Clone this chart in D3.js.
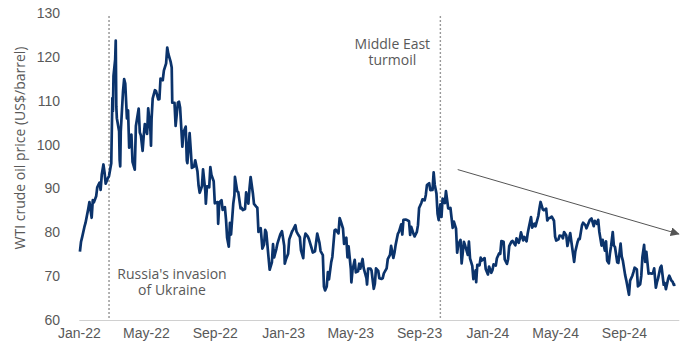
<!DOCTYPE html>
<html>
<head>
<meta charset="utf-8">
<script src="https://cdn.jsdelivr.net/npm/d3@7"></script>
<style>
  html, body { margin: 0; padding: 0; background: #fff; }
  svg { display: block; font-family: "Open Sans", sans-serif; }
</style>
</head>
<body>
<svg id="chart" width="690" height="346"></svg>
<script>
// WTI crude oil, closing price (US$/barrel)
const dates2022 = ["2022-01-03","2022-01-05","2022-01-07","2022-01-11","2022-01-13","2022-01-18","2022-01-20","2022-01-24","2022-01-26","2022-01-28",
  "2022-02-01","2022-02-03","2022-02-07","2022-02-09","2022-02-11","2022-02-14","2022-02-16","2022-02-18","2022-02-22","2022-02-24","2022-02-28",
  "2022-03-01","2022-03-02","2022-03-03","2022-03-04","2022-03-07","2022-03-08","2022-03-09","2022-03-10","2022-03-14","2022-03-15","2022-03-16","2022-03-17","2022-03-21","2022-03-23","2022-03-25","2022-03-28","2022-03-30",
  "2022-04-01","2022-04-05","2022-04-07","2022-04-11","2022-04-13","2022-04-18","2022-04-20","2022-04-22","2022-04-25","2022-04-27","2022-04-29",
  "2022-05-03","2022-05-05","2022-05-09","2022-05-10","2022-05-11","2022-05-13","2022-05-17","2022-05-19","2022-05-23","2022-05-25","2022-05-27","2022-05-31",
  "2022-06-02","2022-06-06","2022-06-08","2022-06-10","2022-06-14","2022-06-16","2022-06-17","2022-06-21","2022-06-23","2022-06-27","2022-06-29",
  "2022-07-01","2022-07-05","2022-07-07","2022-07-11","2022-07-13","2022-07-14","2022-07-18","2022-07-20","2022-07-22","2022-07-26","2022-07-28",
  "2022-08-01","2022-08-03","2022-08-05","2022-08-09","2022-08-11","2022-08-15","2022-08-16","2022-08-18","2022-08-22","2022-08-24","2022-08-26","2022-08-30",
  "2022-09-01","2022-09-06","2022-09-07","2022-09-09","2022-09-13","2022-09-15","2022-09-19","2022-09-21","2022-09-23","2022-09-26","2022-09-28","2022-09-30",
  "2022-10-04","2022-10-06","2022-10-07","2022-10-11","2022-10-13","2022-10-17","2022-10-19","2022-10-21","2022-10-25","2022-10-27","2022-10-31",
  "2022-11-02","2022-11-04","2022-11-08","2022-11-10","2022-11-14","2022-11-16","2022-11-18","2022-11-22","2022-11-25","2022-11-28","2022-11-30",
  "2022-12-02","2022-12-06","2022-12-08","2022-12-12","2022-12-14","2022-12-16","2022-12-20","2022-12-22","2022-12-27","2022-12-30"];
const prices2022 = [75.6,77.85,78.90,81.22,82.12,85.43,86.90,83.31,87.35,86.82,
  88.20,90.27,91.32,89.66,93.10,95.46,93.66,91.07,92.35,92.81,95.72,
  103.41,110.60,107.67,115.68,119.40,123.70,108.70,106.02,103.01,96.44,95.04,102.98,112.12,114.93,113.90,105.96,107.82,
  99.27,102.28,96.03,94.29,104.25,108.21,102.75,102.07,98.54,102.02,104.69,
  102.41,108.26,103.09,99.76,105.71,110.49,112.40,112.21,110.29,110.33,115.07,114.67,
  116.87,118.50,122.11,120.67,118.93,117.59,109.56,109.52,104.27,109.57,109.78,
  108.43,99.50,102.73,104.09,96.30,95.78,102.60,98.88,94.70,94.98,96.42,
  93.89,90.66,89.01,90.50,94.34,89.41,86.53,90.50,90.23,94.89,93.06,91.64,
  86.61,86.88,81.94,86.79,87.31,85.10,85.73,82.94,78.74,76.71,82.15,79.49,
  86.52,88.45,92.64,89.35,89.11,85.46,85.55,85.05,85.32,89.08,86.53,
  90.00,92.61,88.91,86.47,85.87,85.59,80.08,80.95,76.28,77.24,80.55,
  79.98,74.25,71.46,73.17,77.28,74.29,76.23,77.49,79.53,80.26];

const dates2023 = ["2023-01-03","2023-01-04","2023-01-06","2023-01-10","2023-01-12","2023-01-17","2023-01-19","2023-01-23","2023-01-25","2023-01-27","2023-01-31",
  "2023-02-02","2023-02-06","2023-02-08","2023-02-10","2023-02-14","2023-02-16","2023-02-21","2023-02-23","2023-02-27",
  "2023-03-01","2023-03-03","2023-03-07","2023-03-09","2023-03-13","2023-03-15","2023-03-17","2023-03-20","2023-03-22","2023-03-24","2023-03-28","2023-03-30",
  "2023-04-03","2023-04-05","2023-04-10","2023-04-12","2023-04-14","2023-04-18","2023-04-20","2023-04-24","2023-04-26","2023-04-28",
  "2023-05-02","2023-05-03","2023-05-05","2023-05-09","2023-05-11","2023-05-15","2023-05-17","2023-05-19","2023-05-23","2023-05-25","2023-05-30","2023-05-31",
  "2023-06-02","2023-06-06","2023-06-08","2023-06-12","2023-06-14","2023-06-16","2023-06-20","2023-06-22","2023-06-26","2023-06-28","2023-06-30",
  "2023-07-05","2023-07-07","2023-07-11","2023-07-13","2023-07-17","2023-07-19","2023-07-21","2023-07-25","2023-07-27","2023-07-31",
  "2023-08-02","2023-08-04","2023-08-08","2023-08-10","2023-08-14","2023-08-16","2023-08-18","2023-08-22","2023-08-24","2023-08-28","2023-08-30",
  "2023-09-01","2023-09-05","2023-09-07","2023-09-11","2023-09-13","2023-09-15","2023-09-19","2023-09-21","2023-09-25","2023-09-27","2023-09-29",
  "2023-10-02","2023-10-04","2023-10-06","2023-10-09","2023-10-11","2023-10-13","2023-10-17","2023-10-19","2023-10-23","2023-10-25","2023-10-27","2023-10-31",
  "2023-11-02","2023-11-06","2023-11-08","2023-11-10","2023-11-14","2023-11-16","2023-11-20","2023-11-22","2023-11-27","2023-11-29",
  "2023-12-01","2023-12-05","2023-12-07","2023-12-11","2023-12-12","2023-12-14","2023-12-18","2023-12-20","2023-12-22","2023-12-27","2023-12-29"];
const prices2023 = [76.93,72.84,73.77,75.12,78.39,80.18,80.61,81.62,80.15,79.68,78.87,
  75.88,74.11,78.47,79.72,79.06,78.49,76.36,75.39,75.68,
  77.69,79.68,77.58,75.72,74.80,67.61,66.74,67.64,70.90,69.26,73.20,74.37,
  80.42,80.61,79.74,83.26,82.52,80.86,77.37,78.76,74.30,76.78,
  71.66,68.60,71.34,73.71,70.87,71.11,72.83,71.69,73.91,71.83,69.46,68.09,
  71.74,71.74,71.29,67.12,68.27,71.78,71.19,69.51,69.37,69.56,70.64,
  71.79,73.86,74.83,76.89,74.15,75.35,77.07,79.63,80.09,81.80,
  79.49,82.82,82.92,82.82,82.51,79.38,81.25,79.64,79.05,80.10,81.63,
  85.55,86.69,87.51,87.29,88.52,90.77,91.20,89.63,89.68,93.68,90.79,
  88.82,84.22,82.79,86.38,83.49,87.69,86.66,89.37,85.49,85.39,85.54,81.02,
  82.46,80.82,75.33,77.17,78.26,72.90,77.83,77.10,74.86,77.86,
  74.07,72.32,69.34,71.32,68.61,72.58,72.47,74.22,73.56,74.11,71.65];

const dates2024 = ["2024-01-02","2024-01-04","2024-01-08","2024-01-10","2024-01-12","2024-01-16","2024-01-18","2024-01-22","2024-01-24","2024-01-26","2024-01-30",
  "2024-02-01","2024-02-05","2024-02-07","2024-02-09","2024-02-13","2024-02-15","2024-02-20","2024-02-22","2024-02-26","2024-02-28",
  "2024-03-01","2024-03-05","2024-03-07","2024-03-11","2024-03-13","2024-03-15","2024-03-19","2024-03-21","2024-03-25","2024-03-27",
  "2024-04-01","2024-04-03","2024-04-05","2024-04-09","2024-04-11","2024-04-15","2024-04-17","2024-04-19","2024-04-23","2024-04-25","2024-04-29",
  "2024-05-01","2024-05-03","2024-05-07","2024-05-09","2024-05-13","2024-05-15","2024-05-17","2024-05-21","2024-05-23","2024-05-28","2024-05-30",
  "2024-06-03","2024-06-04","2024-06-06","2024-06-10","2024-06-12","2024-06-14","2024-06-18","2024-06-20","2024-06-24","2024-06-26","2024-06-28",
  "2024-07-02","2024-07-05","2024-07-09","2024-07-11","2024-07-15","2024-07-17","2024-07-19","2024-07-23","2024-07-25","2024-07-29","2024-07-31",
  "2024-08-02","2024-08-05","2024-08-07","2024-08-09","2024-08-12","2024-08-14","2024-08-16","2024-08-20","2024-08-22","2024-08-26","2024-08-28","2024-08-30",
  "2024-09-03","2024-09-05","2024-09-10","2024-09-12","2024-09-16","2024-09-18","2024-09-20","2024-09-24","2024-09-26","2024-09-30",
  "2024-10-02","2024-10-04","2024-10-07","2024-10-09","2024-10-11","2024-10-15","2024-10-17","2024-10-21","2024-10-23","2024-10-25","2024-10-28","2024-10-30",
  "2024-11-01","2024-11-05","2024-11-07","2024-11-11","2024-11-13","2024-11-15","2024-11-19","2024-11-21","2024-11-25","2024-11-27","2024-11-29","2024-12-02"];
const prices2024 = [70.38,72.19,70.77,71.37,72.68,72.40,74.08,75.19,75.09,78.01,77.82,
  73.82,72.78,73.86,76.84,77.87,78.03,77.04,78.61,77.58,78.54,
  79.97,78.15,78.93,77.93,79.72,81.04,83.47,81.07,81.95,81.35,
  83.71,85.43,86.91,85.23,85.02,85.41,82.69,83.14,83.36,83.57,82.63,
  79.00,78.11,78.38,79.26,79.12,78.63,80.06,79.26,76.87,79.83,77.91,
  74.22,73.25,75.55,77.74,78.50,78.45,81.57,82.17,81.63,80.90,81.54,
  82.81,83.16,81.41,82.62,81.91,82.85,80.13,76.96,78.28,75.81,77.91,
  73.52,72.94,75.23,76.84,80.06,76.98,76.65,73.17,73.01,77.42,74.52,73.55,
  70.34,69.15,65.75,68.97,70.09,70.91,71.92,71.56,67.67,68.17,
  70.10,74.38,77.14,73.24,75.56,70.58,70.67,70.56,70.77,71.78,67.38,68.61,
  69.49,71.99,72.36,68.04,68.43,67.02,69.39,70.10,68.94,68.72,68.00,68.10];

const yTicks = [60, 70, 80, 90, 100, 110, 120, 130];
const xTickDates = ["2022-01-01","2022-05-01","2022-09-01","2023-01-01","2023-05-01","2023-09-01","2024-01-01","2024-05-01","2024-09-01"];
const eventDates = ["2022-02-24", "2023-10-09"];
const eventLabels = [["Russia's invasion", "of Ukraine"], ["Middle East", "turmoil"]];
// downward trend guide: [date, price] at each end
const trendStart = ["2023-11-09", 94.3];
const trendEnd = ["2024-12-08", 79.6];

const parse = d3.timeParse("%Y-%m-%d");
const series = [
  ...d3.zip(dates2022, prices2022),
  ...d3.zip(dates2023, prices2023),
  ...d3.zip(dates2024, prices2024)
].map(([d, v]) => ({ date: parse(d), value: v }));

const svg = d3.select("#chart");
const textColor = "#595959";
const fontSize = "14px";

const x = d3.scaleTime()
  .domain([parse("2022-01-01"), parse("2024-12-08")])
  .range([78.8, 678.8]);
const y = d3.scaleLinear().domain([60, 130]).range([320, 13]);

// bottom axis
const xAxis = svg.append("g")
  .attr("transform", `translate(0,${y(60)})`)
  .call(d3.axisBottom(x)
    .tickValues(xTickDates.map(parse))
    .tickFormat(d3.timeFormat("%b-%y"))
    .tickSize(0)
    .tickPadding(8));
xAxis.select(".domain").attr("stroke", "#d0d0d0").attr("stroke-width", 1);
xAxis.selectAll("text").attr("fill", textColor).style("font-size", fontSize);

// left axis
const yAxis = svg.append("g")
  .attr("transform", "translate(61,0)")
  .call(d3.axisLeft(y).tickValues(yTicks).tickSize(0).tickPadding(1));
yAxis.select(".domain").remove();
yAxis.selectAll("text").attr("fill", textColor).style("font-size", fontSize);

svg.append("text")
  .attr("transform", "translate(25,148) rotate(-90)")
  .attr("text-anchor", "middle")
  .attr("fill", textColor)
  .style("font-size", fontSize)
  .text("WTI crude oil price (US$/barrel)");

// event markers
const eventStyles = [{ stroke: "#666", width: 1 }, { stroke: "#999", width: 1.4 }];
eventDates.forEach((d, i) => {
  svg.append("line")
    .attr("x1", x(parse(d))).attr("x2", x(parse(d)))
    .attr("y1", 16).attr("y2", y(60))
    .attr("stroke", eventStyles[i].stroke)
    .attr("stroke-width", eventStyles[i].width)
    .attr("stroke-dasharray", "2,2");
});

// two-line event captions
const labelPos = [{ dx: 63, top: 278.5 }, { dx: -48, top: 48.5 }];
const lineGap = 16;
eventLabels.forEach((lines, i) => {
  const cx = x(parse(eventDates[i])) + labelPos[i].dx;
  lines.forEach((s, j) => {
    svg.append("text")
      .attr("x", cx).attr("y", labelPos[i].top + j * lineGap)
      .attr("text-anchor", "middle")
      .attr("fill", textColor)
      .style("font-size", fontSize)
      .text(s);
  });
});

// price line
svg.append("path")
  .datum(series)
  .attr("fill", "none")
  .attr("stroke", "#0b336b")
  .attr("stroke-width", 2.7)
  .attr("stroke-linejoin", "round")
  .attr("d", d3.line().x(d => x(d.date)).y(d => y(d.value)));

// trend arrow
svg.append("defs").append("marker")
  .attr("id", "arrowhead")
  .attr("viewBox", "0 0 10 10")
  .attr("refX", 9).attr("refY", 5)
  .attr("markerWidth", 9).attr("markerHeight", 9)
  .attr("markerUnits", "userSpaceOnUse")
  .attr("orient", "auto")
  .append("path").attr("d", "M0,0 L10,5 L0,10 Z").attr("fill", "#555");

svg.append("line")
  .attr("x1", x(parse(trendStart[0]))).attr("y1", y(trendStart[1]))
  .attr("x2", x(parse(trendEnd[0]))).attr("y2", y(trendEnd[1]))
  .attr("stroke", "#555").attr("stroke-width", 1)
  .attr("marker-end", "url(#arrowhead)");
</script>
</body>
</html>
